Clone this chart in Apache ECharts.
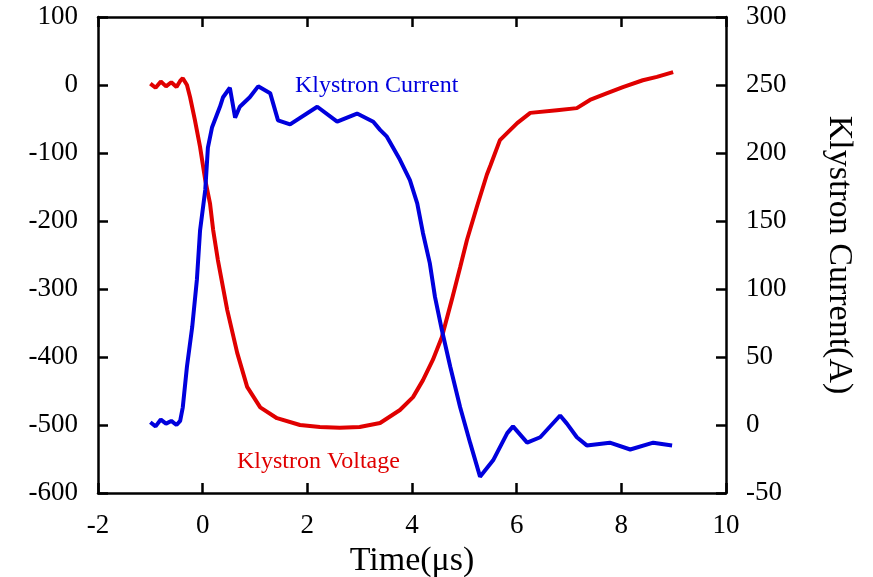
<!DOCTYPE html>
<html>
<head>
<meta charset="utf-8">
<script src="https://cdn.jsdelivr.net/npm/echarts@6/dist/echarts.min.js"></script>
<style>
html,body{margin:0;padding:0;background:#fff;}
#chart{width:873px;height:577px;}
</style>
</head>
<body>
<div id="chart"></div>
<script>
// Time axis ticks (μs)
var xTicks = [-2, 0, 2, 4, 6, 8, 10];
var voltageTicks = [-600, -500, -400, -300, -200, -100, 0, 100];
var currentTicks = [-50, 0, 50, 100, 150, 200, 250, 300];

// Klystron Voltage: [time μs, value]
var voltageData = [
  [-1.0,2],[-0.9,-4],[-0.8,5],[-0.7,-2],[-0.6,4],[-0.5,-3],[-0.43,6],[-0.38,10],[-0.3,0],
  [-0.24,-18],[-0.15,-51],[-0.05,-91],[0.05,-140],[0.14,-174],[0.2,-213],[0.29,-257],
  [0.47,-331],[0.66,-394],[0.85,-444],[1.1,-474],[1.42,-490],[1.86,-500],[2.24,-503],
  [2.62,-504],[3.0,-503],[3.39,-497],[3.77,-478],[4.02,-459],[4.21,-434],[4.4,-404],
  [4.57,-371],[4.76,-316],[4.92,-268],[5.05,-228],[5.24,-179],[5.43,-132],[5.5,-118],
  [5.68,-81],[6.01,-56],[6.26,-41],[6.77,-37],[7.15,-34],[7.4,-22],[7.73,-12],
  [8.03,-3],[8.41,7],[8.68,12],[8.99,19]
];

// Klystron Current: [time μs, amps]
var currentData = [
  [-1.0,2],[-0.9,-1],[-0.8,4],[-0.7,1],[-0.6,3],[-0.5,0],[-0.43,3],[-0.38,13],[-0.3,43],
  [-0.2,72],[-0.11,107],[-0.05,143],[0.05,173],[0.1,204],[0.18,219],[0.33,234],[0.39,241],
  [0.52,248],[0.62,226],[0.71,234],[0.9,241],[1.06,249],[1.29,244],[1.44,224],[1.67,221],
  [2.19,234],[2.57,223],[2.95,229],[3.26,223],[3.39,217],[3.52,212],[3.77,195],[3.96,180],
  [4.1,163],[4.21,141],[4.34,119],[4.44,94],[4.57,70],[4.73,43],[4.92,13],[5.11,-13],
  [5.3,-38],[5.55,-26],[5.82,-6],[5.93,-1],[6.2,-13],[6.45,-9],[6.83,7],[6.96,1],
  [7.15,-9],[7.34,-15],[7.78,-13],[8.17,-18],[8.61,-13],[8.97,-15]
];

var FONT = 'Liberation Serif';
var chart = echarts.init(document.getElementById('chart'));
var axisLineStyle = {color:'#000', width:2.5};
var option = {
  backgroundColor:'#fff',
  animation:false,
  grid:{left:98, right:147, top:17, bottom:84, containLabel:false, outerBoundsMode:'none'},
  xAxis:[{
    type:'value', position:'bottom',
    min:xTicks[0], max:xTicks[xTicks.length-1], interval:xTicks[1]-xTicks[0],
    name:'Time(μs)', nameLocation:'middle', nameGap:43,
    nameTextStyle:{fontFamily:FONT, fontSize:34, color:'#000'},
    axisLine:{show:true, onZero:false, lineStyle:axisLineStyle},
    axisTick:{show:true, inside:true, length:10, lineStyle:axisLineStyle},
    axisLabel:{fontFamily:FONT, fontSize:27, color:'#000', margin:19},
    splitLine:{show:false}
  },{
    type:'value', position:'top',
    min:xTicks[0], max:xTicks[xTicks.length-1], interval:xTicks[1]-xTicks[0],
    axisLine:{show:true, onZero:false, lineStyle:axisLineStyle},
    axisTick:{show:true, inside:true, length:10, lineStyle:axisLineStyle},
    axisLabel:{show:false},
    splitLine:{show:false}
  }],
  yAxis:[{
    type:'value', position:'left',
    min:voltageTicks[0], max:voltageTicks[voltageTicks.length-1], interval:100,
    axisLine:{show:true, onZero:false, lineStyle:axisLineStyle},
    axisTick:{show:true, inside:true, length:10, lineStyle:axisLineStyle},
    axisLabel:{fontFamily:FONT, fontSize:27, color:'#000', margin:20},
    splitLine:{show:false}
  },{
    type:'value', position:'right',
    min:currentTicks[0], max:currentTicks[currentTicks.length-1], interval:50,
    name:'Klystron Current(A)', nameLocation:'middle', nameGap:96, nameRotate:-90,
    nameTextStyle:{fontFamily:FONT, fontSize:34, color:'#000'},
    axisLine:{show:true, onZero:false, lineStyle:axisLineStyle},
    axisTick:{show:true, inside:true, length:10, lineStyle:axisLineStyle},
    axisLabel:{fontFamily:FONT, fontSize:27, color:'#000', margin:20},
    splitLine:{show:false}
  }],
  graphic:[
    {type:'text', left:295, top:74, style:{text:'Klystron Current', fill:'#0000dd', font:'24px "Liberation Serif"'}},
    {type:'text', left:237, top:450, style:{text:'Klystron Voltage', fill:'#e00000', font:'24px "Liberation Serif"'}}
  ],
  series:[{
    name:'Klystron Voltage', type:'line', xAxisIndex:0, yAxisIndex:0,
    data:voltageData, showSymbol:false, symbol:'none',
    lineStyle:{color:'#e00000', width:4}, z:2
  },{
    name:'Klystron Current', type:'line', xAxisIndex:0, yAxisIndex:1,
    data:currentData, showSymbol:false, symbol:'none',
    lineStyle:{color:'#0000dd', width:4}, z:3
  }]
};
chart.setOption(option);
</script>
</body>
</html>
